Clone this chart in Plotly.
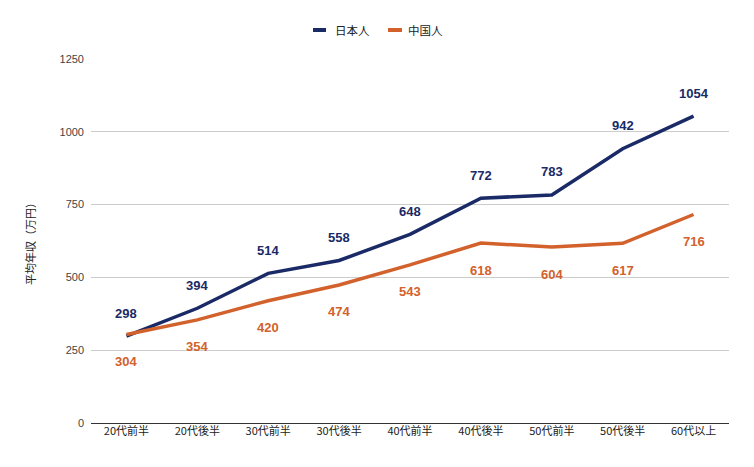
import plotly.graph_objects as go

categories = ["20代前半", "20代後半", "30代前半", "30代後半", "40代前半", "40代後半", "50代前半", "50代後半", "60代以上"]
japanese = [298, 394, 514, 558, 648, 772, 783, 942, 1054]
chinese = [304, 354, 420, 474, 543, 618, 604, 617, 716]
series_names = ["日本人", "中国人"]
y_ticks = [0, 250, 500, 750, 1000, 1250]

navy = "#1a2a66"
orange = "#d2612c"
font = "Arial, 'Liberation Sans', sans-serif"
cjk = "'Noto Sans CJK JP', sans-serif"

fig = go.Figure()
fig.add_trace(go.Scatter(x=categories, y=japanese, mode="lines", name=series_names[0],
                         line=dict(color=navy, width=3.5), showlegend=False))
fig.add_trace(go.Scatter(x=categories, y=chinese, mode="lines", name=series_names[1],
                         line=dict(color=orange, width=3.5), showlegend=False))

anns = []
for c, v in zip(categories, japanese):
    anns.append(dict(x=c, y=v, text=f"<b>{v}</b>", showarrow=False, yshift=23,
                     font=dict(color=navy, size=13, family=font)))
for c, v in zip(categories, chinese):
    anns.append(dict(x=c, y=v, text=f"<b>{v}</b>", showarrow=False, yshift=-27,
                     font=dict(color=orange, size=13, family=font)))
anns.append(dict(text="平均年収（万円）", xref="paper", yref="paper", x=-0.0956, y=0.5,
                 xanchor="center", yanchor="middle", textangle=-90, showarrow=False,
                 font=dict(size=11, color="#222222", family=cjk)))

# custom legend (short line swatches as in the reference)
leg_y = 1.0797
swatches = [(0.348, 0.3683, 0.3793, navy), (0.4655, 0.4875, 0.4937, orange)]
shapes = []
for (x0, x1, xt, col), name in zip(swatches, series_names):
    shapes.append(dict(type="line", xref="paper", yref="paper", x0=x0, x1=x1, y0=leg_y, y1=leg_y,
                       line=dict(color=col, width=4)))
    anns.append(dict(text=name, xref="paper", yref="paper", x=xt, y=leg_y, xanchor="left",
                     yanchor="middle", showarrow=False,
                     font=dict(size=11.5, color="#222222", family=cjk)))

fig.update_layout(
    width=754, height=467,
    margin=dict(l=83, r=33, t=51, b=52),
    paper_bgcolor="white", plot_bgcolor="white",
    font=dict(family=font, color="#222222"),
    showlegend=False,
    annotations=anns,
    shapes=shapes,
    xaxis=dict(range=[-0.5, 8.5], showgrid=False, ticks="", showline=False, automargin=False,
               tickfont=dict(size=11, color="#222222", family=cjk)),
    yaxis=dict(range=[0, 1250], tickvals=y_ticks, showgrid=True, gridcolor="#cccccc",
               zeroline=True, zerolinecolor="#333333", zerolinewidth=1, automargin=False,
               ticks="", ticklabelstandoff=6, tickfont=dict(size=11, color="#444444", family=font)),
)
fig.write_html("out.html")
